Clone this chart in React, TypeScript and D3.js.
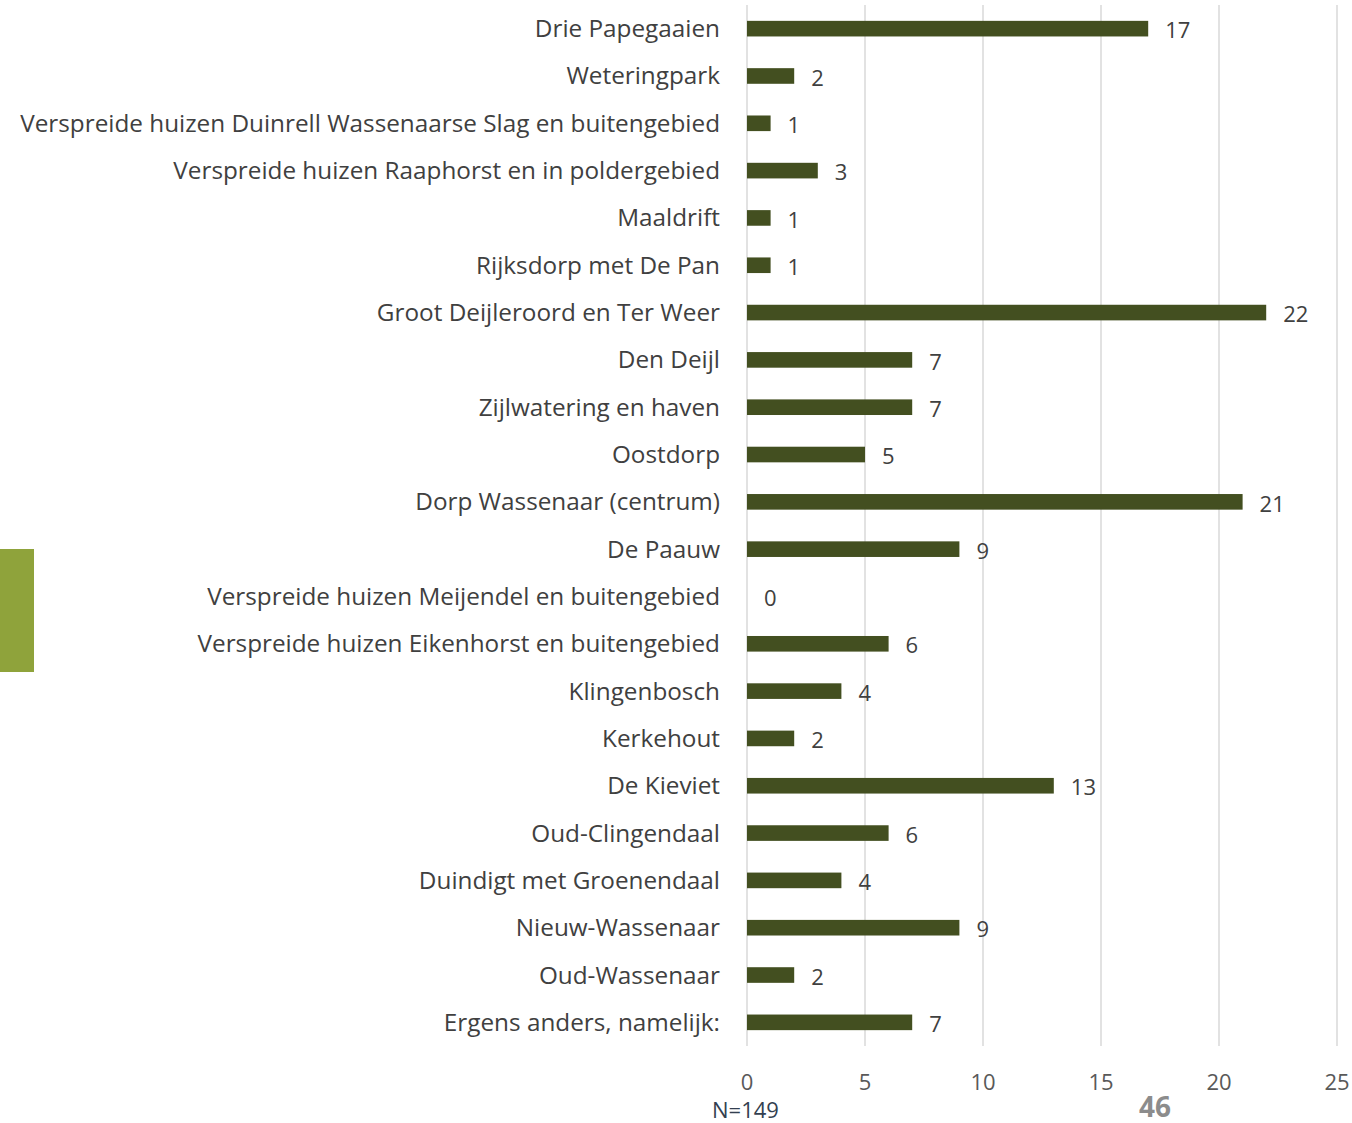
import React, { useEffect, useRef } from "react";
import * as d3 from "d3";

const categories = [
  "Drie Papegaaien",
  "Weteringpark",
  "Verspreide huizen Duinrell Wassenaarse Slag en buitengebied",
  "Verspreide huizen Raaphorst en in poldergebied",
  "Maaldrift",
  "Rijksdorp met De Pan",
  "Groot Deijleroord en Ter Weer",
  "Den Deijl",
  "Zijlwatering en haven",
  "Oostdorp",
  "Dorp Wassenaar (centrum)",
  "De Paauw",
  "Verspreide huizen Meijendel en buitengebied",
  "Verspreide huizen Eikenhorst en buitengebied",
  "Klingenbosch",
  "Kerkehout",
  "De Kieviet",
  "Oud-Clingendaal",
  "Duindigt met Groenendaal",
  "Nieuw-Wassenaar",
  "Oud-Wassenaar",
  "Ergens anders, namelijk:",
];
const values = [17, 2, 1, 3, 1, 1, 22, 7, 7, 5, 21, 9, 0, 6, 4, 2, 13, 6, 4, 9, 2, 7];
const xTicks = [0, 5, 10, 15, 20, 25];

const FONT = "'Open Sans', sans-serif";

const App = () => {
  const ref = useRef<SVGSVGElement>(null);

  useEffect(() => {
    const svg = d3.select(ref.current);
    svg.selectAll("*").remove();

    const x = d3.scaleLinear().domain([0, 25]).range([747, 1337]);
    const y = d3
      .scaleBand()
      .domain(categories)
      .range([5, 1046])
      .paddingInner(0.67)
      .paddingOuter(0.335);

    // side accent
    svg.append("rect").attr("x", 0).attr("y", 549).attr("width", 34).attr("height", 123).attr("fill", "#8fa33b");

    // gridlines
    svg
      .append("g")
      .selectAll("line")
      .data(xTicks)
      .join("line")
      .attr("x1", (d) => x(d))
      .attr("x2", (d) => x(d))
      .attr("y1", 5)
      .attr("y2", 1046)
      .attr("stroke", "#d9d9d9")
      .attr("stroke-width", 1.5);

    // bars
    svg
      .append("g")
      .selectAll("rect")
      .data(values)
      .join("rect")
      .attr("x", x(0))
      .attr("y", (d, i) => y(categories[i])!)
      .attr("width", (d) => x(d) - x(0))
      .attr("height", y.bandwidth())
      .attr("fill", "#434f20");

    // category labels
    svg
      .append("g")
      .selectAll("text")
      .data(categories)
      .join("text")
      .attr("x", 720)
      .attr("y", (d) => y(d)! + y.bandwidth() / 2)
      .attr("dy", "0.35em")
      .attr("text-anchor", "end")
      .attr("font-family", FONT)
      .attr("font-size", 24.3)
      .attr("fill", "#404040")
      .text((d) => d);

    // value labels
    svg
      .append("g")
      .selectAll("text")
      .data(values)
      .join("text")
      .attr("x", (d) => x(d) + 17)
      .attr("y", (d, i) => y(categories[i])! + y.bandwidth() / 2 + 2)
      .attr("dy", "0.35em")
      .attr("font-family", FONT)
      .attr("font-size", 22)
      .attr("fill", "#404040")
      .text((d) => d);

    // x tick labels
    svg
      .append("g")
      .selectAll("text")
      .data(xTicks)
      .join("text")
      .attr("x", (d) => x(d))
      .attr("y", 1082)
      .attr("dy", "0.35em")
      .attr("text-anchor", "middle")
      .attr("font-family", FONT)
      .attr("font-size", 22)
      .attr("fill", "#595959")
      .text((d) => d);

    svg
      .append("text")
      .attr("x", 712)
      .attr("y", 1118)
      .attr("font-family", FONT)
      .attr("font-size", 22)
      .attr("fill", "#333f50")
      .text("N=149");

    svg
      .append("text")
      .attr("x", 1155)
      .attr("y", 1117)
      .attr("text-anchor", "middle")
      .attr("font-family", FONT)
      .attr("font-weight", "bold")
      .attr("font-size", 28)
      .attr("fill", "#8c8c8c")
      .text("46");
  }, []);

  return (
    <svg
      ref={ref}
      width={1352}
      height={1123}
      style={{ position: "absolute", left: 0, top: 0, background: "#fff" }}
    />
  );
};

export default App;
